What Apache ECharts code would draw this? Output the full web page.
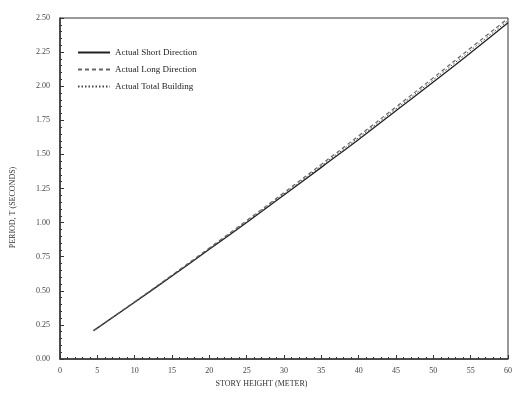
<!DOCTYPE html>
<html><head><meta charset="utf-8">
<script src="https://cdn.jsdelivr.net/npm/echarts@6/dist/echarts.min.js"></script>
<style>html,body{margin:0;padding:0;background:#fff}#c{width:515px;height:397px}</style>
</head><body><div id="c"></div>
<script>
const xValues = [4.5,10,15,20,25,30,35,40,45,50,55,60];
const shortDir = [0.208,0.416,0.609,0.804,1.001,1.202,1.405,1.61,1.82,2.03,2.245,2.465];
const longDir  = [0.208,0.42,0.615,0.814,1.015,1.22,1.427,1.636,1.848,2.062,2.28,2.497];
const totalBld = [0.208,0.418,0.612,0.809,1.008,1.211,1.416,1.623,1.834,2.047,2.263,2.481];
const seriesNames = ['Actual Short Direction','Actual Long Direction','Actual Total Building'];
const pair = arr => xValues.map((x,i)=>[x,arr[i]]);
const font = '"Liberation Serif", "DejaVu Serif", serif';
const chart = echarts.init(document.getElementById('c'), null, {renderer:'canvas'});
chart.setOption({
  animation:false,
  grid:{left:60,right:4,top:18,bottom:38,show:true,borderColor:'#333',borderWidth:1},
  legend:{
    orient:'vertical', left:72, top:43, itemWidth:32, itemHeight:8, itemGap:8,
    textStyle:{fontFamily:font,fontSize:9,color:'#222'},
    itemStyle:{opacity:0},
    data:seriesNames
  },
  xAxis:{
    type:'value', min:0, max:60, interval:5,
    name:'STORY HEIGHT (METER)', nameLocation:'middle', nameGap:21,
    nameTextStyle:{fontFamily:font,fontSize:8,color:'#333',padding:[0,45,0,0]},
    axisLine:{lineStyle:{color:'#333',width:1.5}},
    axisTick:{inside:true,length:4,lineStyle:{color:'#333'}},
    minorTick:{show:true,splitNumber:5,length:2,lineStyle:{color:'#333'}},
    axisLabel:{fontFamily:font,fontSize:8,color:'#444',margin:8},
    splitLine:{show:false}
  },
  yAxis:{
    type:'value', min:0, max:2.5, interval:0.25,
    name:'PERIOD, T (SECONDS)', nameLocation:'middle', nameGap:43, nameRotate:90,
    nameTextStyle:{fontFamily:font,fontSize:8,color:'#333',padding:[0,0,0,-38]},
    axisLine:{lineStyle:{color:'#333',width:1.5}},
    axisTick:{inside:true,length:4,lineStyle:{color:'#333'}},
    minorTick:{show:true,splitNumber:5,length:2,lineStyle:{color:'#333'}},
    axisLabel:{fontFamily:font,fontSize:8,color:'#444',margin:10,formatter:v=>v.toFixed(2)},
    splitLine:{show:false}
  },
  series:[
    {name:seriesNames[0],type:'line',smooth:true,symbol:'none',data:pair(shortDir),lineStyle:{color:'#222',width:1.3,type:'solid'},itemStyle:{color:'#222'}},
    {name:seriesNames[1],type:'line',smooth:true,symbol:'none',data:pair(longDir),lineStyle:{color:'#666',width:1.2,type:[4,3]},itemStyle:{color:'#666'}},
    {name:seriesNames[2],type:'line',smooth:true,symbol:'none',data:pair(totalBld),lineStyle:{color:'#444',width:1,type:[1.5,2]},itemStyle:{color:'#444'}}
  ]
});
</script></body></html>
